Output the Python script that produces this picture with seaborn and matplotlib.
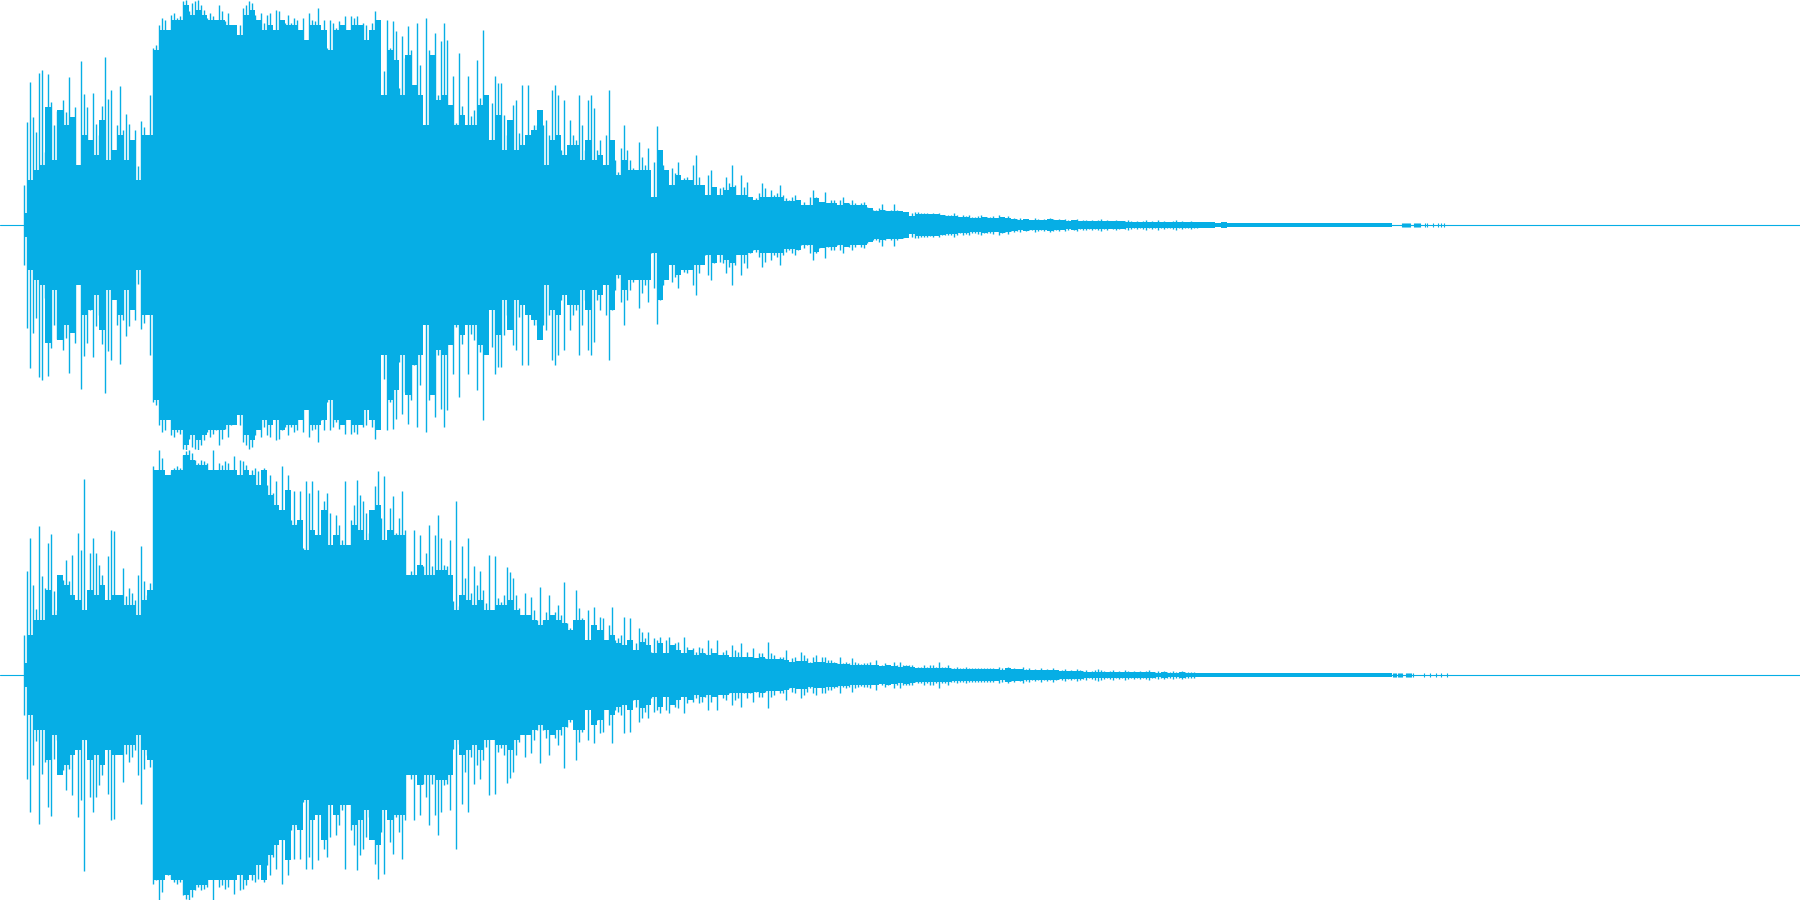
import matplotlib
matplotlib.use("Agg")
import matplotlib.pyplot as plt
import numpy as np
import pandas as pd
import seaborn as sns

WAVE_COLOR = "#06aee5"
FULL_SCALE = 225
DURATION = 1800
SPIKE_START = 24
SPIKE_STEP = 3
BODY_STEP = 6

# peak amplitude of each channel, one reading every SPIKE_STEP columns
ch1_peaks = [
    40, 103, 143, 108, 93, 152, 155, 73, 151, 123, 100, 114, 106, 125, 113, 148, 83, 118, 54, 164,
    131, 118, 85, 132, 101, 90, 119, 168, 126, 135, 63, 100, 139, 95, 111, 101, 73, 95, 59, 104,
    98, 50, 130, 177, 180, 200, 207,
    205, 129, 210, 212, 207, 209, 224, 225, 214, 222, 224, 225, 220, 215, 207, 212, 209, 205, 220, 214,
    204, 212, 200, 192, 184, 200, 217, 220, 224, 222, 210, 200, 212, 202, 210, 212, 194, 215, 214, 205,
    202, 210, 202, 207, 205, 189, 207, 184, 212, 205, 204, 217, 195, 205, 177, 205, 202, 197, 204, 195,
    209, 192, 209, 207, 209, 184, 202, 200, 174, 202, 214, 189, 124, 154, 205, 177, 204, 194, 137, 189,
    167, 199, 175, 140, 202, 160, 97, 207, 175, 130, 192, 130, 184, 202, 185, 107, 149, 102, 172, 119,
    92, 149, 109, 115, 165, 127, 195, 122, 82, 122, 149, 142,
    142, 110, 90, 55, 120, 125, 92, 140, 73, 140, 85, 100, 100, 70, 100, 105, 90, 135, 140, 130,
    75, 125, 65, 105, 90, 85, 130, 100, 75, 125,
    130, 117, 75, 85, 58, 90, 135, 85, 65, 53, 77, 100, 75, 65, 57, 50, 83, 68, 60, 77,
    28, 63, 99, 75, 60, 45, 35, 57, 52, 63, 42, 47, 48, 42, 60, 70, 48, 38, 30, 50,
    55, 38, 27, 37, 38, 48, 42, 60, 40, 28, 50, 38, 43, 28, 25, 27, 32, 42, 37, 23,
    35, 30, 32, 40, 30, 27, 25, 28, 30, 25, 20, 23, 20, 28, 35, 28, 23, 22, 33, 22,
    25, 25, 20, 25, 28, 13, 22, 25, 22, 18, 22, 23, 18, 13, 15, 15, 17, 21, 15, 13,
    15, 21, 15, 13, 13, 10, 8, 12, 13, 13, 12, 12, 12, 11, 12, 10, 12, 10, 10, 10,
    10, 12, 10, 8, 10, 9, 10, 8, 8, 9, 10, 8, 8, 8, 9, 5, 10,
    8, 7, 9, 6, 7, 6, 7, 5, 6, 5, 5, 7, 6, 5, 6, 5, 7, 6, 5, 6,
    4, 6, 5, 4, 5, 6, 4, 5, 5, 4, 5, 4, 5, 6, 4, 5, 3, 4, 5, 4,
    3, 4, 5, 4, 3, 4, 3, 4, 5, 3, 4, 3, 5, 3, 4, 3, 3, 4, 5, 3, 4, 3, 3, 4, 3, 3,
]
ch2_peaks = [
    40, 104, 137, 90, 66, 149, 99, 87, 132, 141, 84, 65, 62, 95, 115, 94, 120, 65, 142, 125,
    196, 65, 122, 137, 122, 110, 100, 70, 119, 145, 144, 74, 49, 107, 79, 87, 82, 75, 100, 129,
    94, 80, 92,
    209, 205, 225, 217, 199, 200, 204, 207, 209, 207, 220, 224, 225, 222, 215, 212, 215, 214, 212, 204,
    225, 197, 212, 210, 214, 212, 204, 219, 194, 215, 214, 210, 147, 205, 207, 204, 150, 207, 190, 200,
    182, 194, 162, 209, 165, 200, 155, 184, 152, 184, 127, 194, 182, 194, 137, 185, 112, 174, 182, 162,
    129, 160, 150, 135, 194, 120, 155, 170, 195, 180, 174, 162, 142, 159, 189, 204, 157, 199, 122, 167,
    179, 142, 157, 184, 145, 87, 104, 145, 75, 140, 109, 122, 150, 109, 140, 160, 137, 110, 109, 135,
    74, 174, 69, 129, 97, 137, 82, 109, 90, 104, 85, 72, 120, 59, 119, 77,
    73, 80, 108, 103, 97, 80, 67, 53, 82, 45, 78, 65, 55, 88, 55, 63, 80, 52, 63, 70,
    60, 93, 52, 47, 45, 85, 67, 57, 27, 65, 32, 68, 45, 58, 57, 33, 50, 68, 35, 37,
    40, 58, 30, 57, 25, 32, 47, 43, 37, 43, 23, 37, 35, 38, 20, 35, 38, 28, 32, 33,
    18, 38, 28, 22, 27, 23, 28, 27, 22, 35, 27, 20, 35, 18, 23, 25, 18, 30, 25, 23,
    32, 18, 23, 18, 27, 17, 22, 22, 17, 33, 22, 20, 13, 18, 18, 25, 13, 17, 18, 13,
    23, 20, 17, 13, 18, 20, 12, 18, 18, 15, 15, 13, 12, 18, 12, 13, 12, 17, 13, 12,
    11, 12, 12, 13, 8, 15, 8, 10, 12, 10, 8, 13, 10, 13, 10, 10, 10, 10, 7, 8,
    8, 10, 8, 10, 10, 8, 13, 8, 8, 10, 7, 7, 8, 7, 7, 8, 7, 7, 7, 7, 7, 7, 7, 7, 7, 5,
    8, 7, 6, 8, 6, 7, 5, 6, 8, 6, 7, 5, 6, 5, 7, 5, 6, 5, 7, 5,
    4, 5, 6, 4, 5, 4, 6, 5, 4, 5, 3, 4, 5, 6, 5, 4, 3, 4, 5, 3,
    4, 3, 5, 4, 3, 4, 3, 4, 3, 4, 5, 3, 3, 4, 3, 4, 3, 3, 4, 3, 3, 4, 3, 3, 3, 3,
]

# solid part under the spikes, one reading every BODY_STEP columns
ch1_body = [
    12, 45, 55, 60, 118, 65, 115, 100, 108, 60, 90, 85, 70, 105, 65, 75, 90, 65, 85, 45,
    90, 90, 175, 195, 195, 205, 205, 220, 210, 215, 210, 205, 205, 205, 200, 200, 190, 210, 215, 205,
    195, 200, 195, 205, 200, 200, 195, 185, 200, 200, 195, 175, 195, 200, 195, 200, 200, 185, 195, 205,
    130, 175, 165, 130, 170, 140, 130, 100, 170, 125, 130, 120, 100, 110, 100, 100, 120, 130, 85, 110,
    75, 105, 75, 80, 90, 95, 115, 60, 85, 90, 70, 80, 80, 65, 85, 65, 70, 60, 85, 50,
    65, 55, 55, 55, 55, 28, 75, 55, 40, 50, 45, 45, 40, 40, 30, 38, 30, 35, 38, 30,
    30, 28, 25, 28, 28, 28, 28, 24, 24, 25, 20, 20, 27, 23, 22, 22, 20, 22, 20, 20,
    20, 17, 14, 15, 14, 14, 14, 13, 9, 11, 11, 11, 11, 10, 9, 9, 8, 8, 7, 7,
    8, 7, 7, 8,
    7, 6, 5, 6, 5, 5, 5, 6, 5, 5, 4, 5, 4, 4, 4, 4, 4, 4, 4, 4,
    3, 3, 3, 3, 3, 3, 3, 3, 3, 3, 3, 3, 3,
    3, 3, 2, 3, 2, 2, 2, 2, 2, 2, 2, 2, 2, 2, 2, 2, 2, 2, 2, 2, 2, 2, 2, 2, 2, 2, 2, 2, 2, 2, 2, 2,
]
ch2_body = [
    12, 40, 55, 55, 85, 60, 100, 90, 80, 75, 65, 85, 80, 90, 75, 80, 80, 70, 70, 60,
    75, 85, 205, 205, 200, 205, 205, 220, 215, 210, 210, 205, 205, 205, 205, 205, 200, 205, 200, 190,
    205, 180, 170, 165, 185, 150, 155, 125, 145, 140, 165, 130, 140, 130, 130, 150, 145, 135, 165, 170,
    135, 145, 140, 140, 100, 100, 110, 100, 100, 105, 105, 100, 65, 80, 75, 70, 75, 65, 65, 70,
    70, 75, 65, 60, 60, 55, 50, 55, 60, 55, 52, 45, 55, 55, 35, 50, 45, 35, 40, 32,
    30, 35, 25, 33, 30, 22, 32, 22, 30, 25, 22, 25, 20, 22, 20, 22, 20, 20, 18, 18,
    18, 18, 17, 18, 16, 16, 16, 15, 13, 14, 14, 12, 13, 13, 12, 12, 11, 11, 10, 10,
    10, 10, 10, 9, 10, 9, 8, 9, 8, 7, 7, 7, 7, 7, 7, 6, 6, 6, 6, 6,
    6, 6, 6, 5,
    7, 6, 6, 5, 5, 5, 5, 5, 5, 4, 4, 4, 4, 3, 3, 3, 3, 3, 3, 3,
    3, 3, 3, 3, 3, 2, 3, 2, 2, 3, 2, 2, 2,
    2, 2, 2, 2, 2, 2, 2, 2, 2, 2, 2, 2, 2, 2, 2, 2, 2, 2, 2, 2, 2, 2, 2, 2, 2, 2, 2, 2, 2, 2, 2, 2,
]

# last little blips before silence
ch1_blips = [1402, 1403, 1404, 1405, 1406, 1407, 1408, 1409, 1410,
             1414, 1415, 1416, 1417, 1418, 1419, 1420, 1425, 1427, 1433, 1438, 1441, 1444]
ch2_blips = [1393, 1394, 1395, 1396, 1398, 1399, 1400, 1401, 1402, 1406, 1407, 1408, 1409, 1410, 1411,
             1413, 1424, 1430, 1436, 1441, 1447]
BLIP_AMP = 2


def spike_table(times, amps):
    rows = []
    for i, (t, a) in enumerate(zip(times, amps)):
        rows.append({"spike": i, "t": t, "amp": -a})
        rows.append({"spike": i, "t": t, "amp": a})
    return pd.DataFrame(rows)


def draw_channel(ax, peaks, body, blips):
    center = pd.DataFrame({"t": [0, DURATION], "amp": [0, 0]})
    sns.lineplot(data=center, x="t", y="amp", color=WAVE_COLOR, linewidth=0.8, ax=ax)

    body_t = SPIKE_START + BODY_STEP * np.arange(len(body))
    ax.fill_between(body_t, -np.array(body), np.array(body), step="mid", color=WAVE_COLOR, linewidth=0)

    spike_t = SPIKE_START + SPIKE_STEP * np.arange(len(peaks))
    sns.lineplot(data=spike_table(spike_t, peaks), x="t", y="amp", units="spike", estimator=None,
                 sort=False, color=WAVE_COLOR, linewidth=1.0, solid_capstyle="butt", ax=ax)
    sns.lineplot(data=spike_table(blips, [BLIP_AMP] * len(blips)), x="t", y="amp", units="spike",
                 estimator=None, sort=False, color=WAVE_COLOR, linewidth=0.8, solid_capstyle="butt", ax=ax)

    ax.set_xlim(0, DURATION)
    ax.set_ylim(-FULL_SCALE, FULL_SCALE)
    ax.axis("off")


sns.set_theme(style="white")
fig = plt.figure(figsize=(18, 9), dpi=100, facecolor="white")
ax1 = fig.add_axes([0, 0.5, 1, 0.5])
ax2 = fig.add_axes([0, 0, 1, 0.5])

draw_channel(ax1, ch1_peaks, ch1_body, ch1_blips)
draw_channel(ax2, ch2_peaks, ch2_body, ch2_blips)

fig.savefig("out.png", dpi=100, facecolor="white")
